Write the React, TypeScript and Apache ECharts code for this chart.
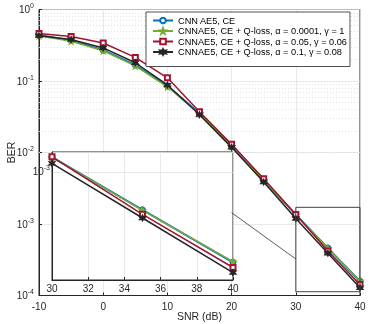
import React, { useEffect, useRef } from 'react';
import * as echarts from 'echarts';

// ---- data ----
const snr = [-10, -5, 0, 5, 10, 15, 20, 25, 30, 35, 40];
const berCnnAe5 = [0.44, 0.37, 0.27, 0.167, 0.085, 0.0353, 0.0123, 0.00413, 0.00135, 0.00046, 0.000158];
const berA00001 = [0.43, 0.36, 0.265, 0.163, 0.083, 0.0348, 0.0122, 0.0041, 0.00135, 0.000455, 0.00016];
const berA005 = [0.46, 0.42, 0.34, 0.214, 0.111, 0.0372, 0.013, 0.0043, 0.00136, 0.00042, 0.000142];
const berA01 = [0.43, 0.38, 0.29, 0.18, 0.088, 0.0338, 0.0118, 0.00387, 0.00119, 0.00039, 0.000128];
const seriesNames = [
  'CNN AE5, CE',
  'CNNAE5, CE + Q-loss, α = 0.0001, γ = 1',
  'CNNAE5, CE + Q-loss, α = 0.05, γ = 0.06',
  'CNNAE5, CE + Q-loss, α = 0.1, γ = 0.08',
];
const seriesValues = [berCnnAe5, berA00001, berA005, berA01];
const insetFrom = 30; // inset shows SNR 30..40

const FONT = '"Liberation Sans", Arial, Helvetica, sans-serif';
const TXT = '#262626';
const colors = ['#0072BD', '#77AC30', '#A2142F', '#262626'];
const star = 'path://M0,-10L2.35,-3.24L9.51,-3.09L3.8,1.24L5.88,8.09L0,4L-5.88,8.09L-3.8,1.24L-9.51,-3.09L-2.35,-3.24Z';
const hexStar = 'path://M0,-10L2.5,-4.33L8.66,-5L5,0L8.66,5L2.5,4.33L0,10L-2.5,4.33L-8.66,5L-5,0L-8.66,-5L-2.5,-4.33Z';
const symbols = ['emptyCircle', star, 'emptyRect', hexStar];
const symbolSizes = [5, 6, 5, 6];
const lineWidths = [2, 1.5, 1.5, 1.5];

function minorValues(fromExp: number, toExp: number, lo: number, hi: number) {
  const out: number[] = [];
  for (let e = fromExp; e < toExp; e++) {
    for (let m = 2; m <= 9; m++) {
      const v = m * Math.pow(10, e);
      if (v > lo && v < hi) out.push(v);
    }
  }
  return out;
}

const supFormatter = (v: number) => {
  const l = Math.log10(v);
  const e = Math.round(l);
  if (Math.abs(l - e) > 1e-6) return '';
  return `{b|10}{s|${e}}`;
};
const richSup = {
  b: { fontSize: 10, color: TXT, fontFamily: FONT },
  s: { fontSize: 7, color: TXT, fontFamily: FONT, padding: [0, 0, 8, 0] },
};

function makeSeries(vals: number[], i: number, inset: boolean) {
  return {
    name: seriesNames[i],
    type: 'line',
    xAxisIndex: inset ? 1 : 0,
    yAxisIndex: inset ? 1 : 0,
    data: snr.map((x, j) => [x, vals[j]]).filter((p) => !inset || p[0] >= insetFrom),
    symbol: symbols[i],
    symbolSize: symbolSizes[i],
    color: colors[i],
    lineStyle: { width: lineWidths[i], color: colors[i] },
    itemStyle: { color: colors[i], borderColor: colors[i], borderWidth: 1.2 },
    z: (inset ? 14 : 3) + i,
    silent: true,
  };
}

export default function App() {
  const ref = useRef<HTMLDivElement>(null);
  useEffect(() => {
    if (!ref.current) return;
    const chart = echarts.init(ref.current, undefined, { renderer: 'svg' });
    const mainMinor = minorValues(-4, 0, 1e-4, 1);
    const insetMinor = minorValues(-4, -2, 1.1e-4, 1.5e-3);

    chart.setOption({
      animation: false,
      textStyle: { fontFamily: FONT },
      grid: [
        { left: 39, top: 9.5, width: 321, height: 286, outerBoundsMode: 'none', containLabel: false, show: true, borderColor: TXT, borderWidth: 1, backgroundColor: 'transparent' },
        { left: 52, top: 152, width: 181, height: 128, outerBoundsMode: 'none', containLabel: false, show: true, borderColor: TXT, borderWidth: 1, backgroundColor: '#fff', z: 10 },
      ],
      xAxis: [
        {
          type: 'value', gridIndex: 0, min: -10, max: 40, interval: 10,
          name: 'SNR (dB)', nameLocation: 'middle', nameGap: 15, nameMoveOverlap: false,
          nameTextStyle: { fontSize: 10.5, color: TXT, fontFamily: FONT, verticalAlign: 'top' },
          axisLine: { onZero: false, lineStyle: { color: TXT } },
          axisTick: { inside: true, length: 3, lineStyle: { color: TXT } },
          axisLabel: { fontSize: 10, color: TXT, margin: 6, fontFamily: FONT },
          splitLine: { show: true, lineStyle: { color: '#e3e3e3', width: 0.8 } },
        },
        {
          type: 'value', gridIndex: 1, min: 30, max: 40, interval: 2, z: 12,
          axisLine: { onZero: false, lineStyle: { color: TXT } },
          axisTick: { inside: true, length: 3, lineStyle: { color: TXT } },
          axisLabel: { fontSize: 10, color: TXT, margin: 3, fontFamily: FONT },
          splitLine: { show: true, lineStyle: { color: '#e3e3e3', width: 0.8 } },
        },
      ],
      yAxis: [
        {
          type: 'log', logBase: 10, gridIndex: 0, min: 1e-4, max: 1,
          name: 'BER', nameLocation: 'middle', nameGap: 23, nameMoveOverlap: false,
          nameTextStyle: { fontSize: 10.5, color: TXT, fontFamily: FONT },
          axisLine: { show: true, onZero: false, lineStyle: { color: TXT } },
          axisTick: { show: true, inside: true, length: 3, lineStyle: { color: TXT } },
          axisLabel: { formatter: supFormatter, rich: richSup, margin: 5 },
          splitLine: { show: true, lineStyle: { color: '#e3e3e3', width: 0.8 } },
        },
        {
          type: 'log', logBase: 10, gridIndex: 1, min: 1.1e-4, max: 1.5e-3, z: 12,
          axisLine: { show: true, onZero: false, lineStyle: { color: TXT } },
          axisTick: { show: false },
          axisLabel: { formatter: supFormatter, rich: richSup, margin: 2 },
          splitLine: { show: true, lineStyle: { color: '#e3e3e3', width: 0.8 } },
        },
      ],
      legend: {
        data: seriesNames,
        orient: 'vertical',
        left: 146,
        top: 12,
        itemWidth: 20,
        itemHeight: 7,
        itemGap: 1.5,
        padding: [4, 3, 10, 6],
        backgroundColor: '#fff',
        borderColor: TXT,
        borderWidth: 0.8,
        z: 20,
        textStyle: { fontSize: 9.2, color: '#000', fontFamily: FONT },
      },
      series: [
        {
          name: '_mainGrid', type: 'line', xAxisIndex: 0, yAxisIndex: 0, data: [], silent: true,
          markLine: {
            z: 1, silent: true, symbol: 'none', label: { show: false },
            lineStyle: { type: [1, 2], color: '#d9d9d9', width: 0.8 },
            data: mainMinor.map((v) => ({ yAxis: v })),
          },
        },
        {
          name: '_zoomBox', type: 'line', xAxisIndex: 0, yAxisIndex: 0, data: [], silent: true,
          markArea: {
            z: 8, silent: true,
            itemStyle: { color: 'rgba(0,0,0,0)', borderColor: '#444', borderWidth: 1 },
            data: [[{ coord: [30, 1.71e-3] }, { coord: [40, 1.13e-4] }]],
          },
          markLine: {
            z: 13, silent: true, symbol: ['none', 'arrow'], symbolSize: [0, 9],
            label: { show: false },
            lineStyle: { type: 'solid', color: '#333', width: 0.8 },
            itemStyle: { color: '#333' },
            data: [[{ coord: [30, 3.24e-4] }, { coord: [20, 1.44e-3] }]],
          },
        },
        {
          name: '_insetGrid', type: 'line', xAxisIndex: 1, yAxisIndex: 1, data: [], silent: true,
          markLine: {
            z: 11, silent: true, symbol: 'none', label: { show: false },
            lineStyle: { type: [1, 2], color: '#d9d9d9', width: 0.8 },
            data: insetMinor.map((v) => ({ yAxis: v })),
          },
        },
        ...seriesValues.map((v, i) => makeSeries(v, i, false)),
        ...seriesValues.map((v, i) => makeSeries(v, i, true)),
      ],
    });
    return () => chart.dispose();
  }, []);
  return <div ref={ref} style={{ position: 'fixed', left: 0, top: 0, width: 374, height: 324 }} />;
}
